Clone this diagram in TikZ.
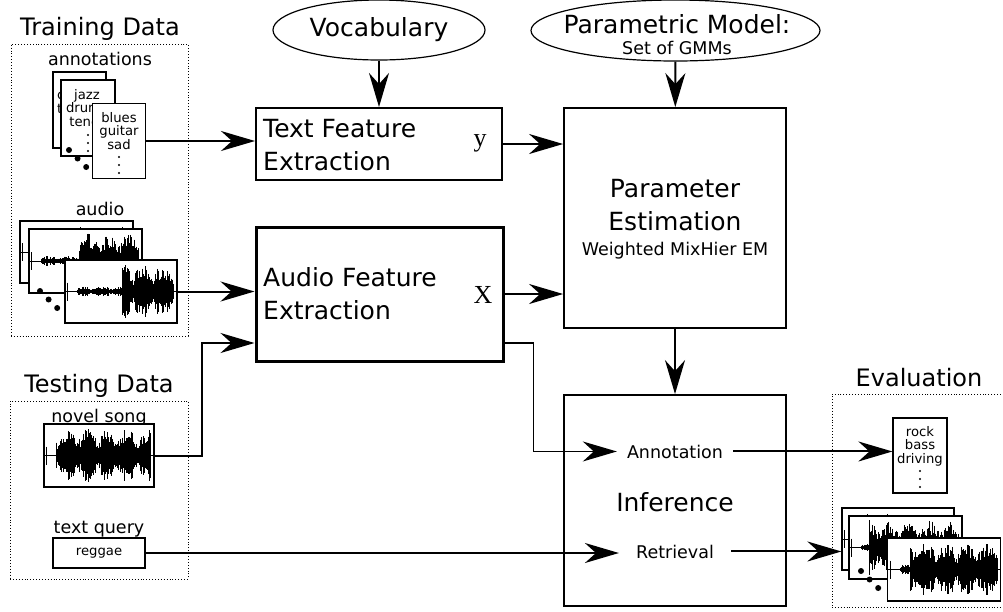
\documentclass[tikz,border=0pt]{standalone}
\usepackage{fontspec}
\setmainfont{DejaVu Sans}
\newfontfamily\varfont{Liberation Serif}
\usetikzlibrary{shapes.geometric, arrows.meta, positioning}
\tikzstyle{block}=[draw,rectangle,line width=2pt,inner sep=0]
\tikzstyle{model}=[draw,ellipse,line width=1.2pt,inner sep=0]
\tikzstyle{dataframe}=[draw,dotted,line width=0.9pt,inner sep=0]
\tikzstyle{card}=[draw,fill=white,line width=1.2pt,inner sep=0]
\tikzstyle{waveframe}=[draw,fill=white,line width=1.2pt,inner sep=0]
\tikzstyle{waveline}=[line width=0.7pt]
\tikzstyle{link}=[->,line width=2pt]
\tikzstyle{titletext}=[font=\fontsize{24}{28}\selectfont,inner sep=0]
\tikzstyle{bigtext}=[font=\fontsize{25}{33}\selectfont,inner sep=0]
\tikzstyle{midtext}=[font=\fontsize{17.5}{20}\selectfont,inner sep=0]
\tikzstyle{smalltext}=[font=\fontsize{13.2}{13.5}\selectfont,align=center,inner sep=0]
\tikzstyle{vartext}=[font=\fontsize{26}{28}\varfont,inner sep=0]
% framed waveform: [quiet samples] name, x, y, width, height, seed
\newcommand{\wavebox}[7][0]{%
  \node[waveframe,minimum width=#5pt,minimum height=#6pt] (#2) at (#3,#4) {};
  \draw[waveline] ([xshift=1pt]#2.west) -- ([xshift=-1pt]#2.east);
  \draw[waveline] ([xshift=3pt,yshift=9pt]#2.west) -- ([xshift=3pt,yshift=-9pt]#2.west);
  \pgfmathsetseed{#7}
  \pgfmathtruncatemacro{\wlast}{#5-16}
  \foreach \k in {0,...,\wlast} {
    \pgfmathsetmacro{\wamp}{(#6/2-4)*ifthenelse(\k<#1,0.18,1)*(0.45+0.55*rnd)*(0.5+0.5*abs(sin(\k*9+#7*17)))}
    \draw[waveline] ([xshift=13pt+\k pt,yshift=\wamp pt]#2.west) -- ([xshift=13pt+\k pt,yshift=-\wamp pt]#2.west);
  }
}
\newcommand{\stackdots}[2]{\foreach \d in {0,1,2} \fill (#1+\d*8.6,#2+\d*8.5) circle (3pt);}
\newcommand{\vdotsat}[2]{\foreach \d in {0,1,2} \fill (#1,#2+\d*8) circle (1.2pt);}

\begin{document}
\begin{tikzpicture}[x=1pt,y=-1pt,>={Stealth[length=34pt,width=20pt,inset=11pt]}]
    \useasboundingbox (0,0) rectangle (1003,611);
    \clip (0,0) rectangle (1003,611);
    % training data
    \node[dataframe,minimum width=177pt,minimum height=292pt] (train) at (99.5,190) {};
    \node[titletext,anchor=base] (traintitle) at (100,35) {Training Data};
    \node[midtext,anchor=base] (anntitle) at (100,65) {annotations};
    \node[card,minimum width=53pt,minimum height=76pt] (card1) at (79.5,110) {};
    \node[smalltext,anchor=base west,align=left] (card1txt) at (57,113) {c\\t};
    \node[card,minimum width=54pt,minimum height=76pt] (card2) at (88,118) {};
    \node[smalltext,anchor=base] (card2txt) at (87,126) {jazz\\drums\\tenor};
    \vdotsat{88}{135}
    \stackdots{69}{150}
    \node[card,minimum width=53pt,minimum height=75pt] (card3) at (119,141) {};
    \node[smalltext,anchor=base] (card3txt) at (119,149) {blues\\guitar\\sad};
    \vdotsat{119}{157}
    \node[midtext,anchor=base] (audiotitle) at (100,215) {audio};
    \wavebox[40]{wfa}{76.5}{252}{113}{62}{11}
    \wavebox[38]{wfb}{85.5}{261}{113}{64}{12}
    \stackdots{40}{291}
    \wavebox[45]{wfc}{121}{291.5}{112}{63}{13}
    % testing data
    \node[dataframe,minimum width=178pt,minimum height=178pt] (test) at (99,490) {};
    \node[titletext,anchor=base] (testtitle) at (99,392) {Testing Data};
    \node[midtext,anchor=base] (songtitle) at (99,422) {novel song};
    \wavebox{song}{99}{455.5}{110}{63}{31}
    \node[midtext,anchor=base] (querytitle) at (99,533) {text query};
    \node[card,minimum width=92pt,minimum height=30pt,smalltext] (query) at (99,553) {reggae};
    % feature extraction
    \node[model,minimum width=212pt,minimum height=60pt,bigtext] (vocab) at (379,30) {Vocabulary};
    \node[block,minimum width=246pt,minimum height=72pt] (tfe) at (379,144) {};
    \node[bigtext,anchor=base west,align=left] (tfetxt) at (263,170) {Text Feature\\Extraction};
    \node[vartext,anchor=base] (yvar) at (480,146) {y};
    \node[block,line width=3pt,minimum width=247pt,minimum height=134pt] (afe) at (379.5,294) {};
    \node[bigtext,anchor=base west,align=left] (afetxt) at (263,319) {Audio Feature\\Extraction};
    \node[vartext,anchor=base] (xvar) at (483,303) {X};
    % model
    \node[model,minimum width=289pt,minimum height=61pt] (pmodel) at (675.5,30.5) {};
    \node[bigtext,anchor=base] (pmtxt) at (677,33) {Parametric Model:};
    \node[midtext,anchor=base] (pmsub) at (677,54) {Set of GMMs};
    \node[block,line width=1.8pt,minimum width=222pt,minimum height=220pt] (pe) at (675,218) {};
    \node[bigtext,anchor=base,align=center] (petxt) at (675,230) {Parameter\\Estimation};
    \node[midtext,anchor=base] (pesub) at (675,255) {Weighted MixHier EM};
    \node[block,line width=1.8pt,minimum width=222pt,minimum height=211pt] (inf) at (675,500.5) {};
    \node[midtext,anchor=base,inner xsep=10pt] (ann) at (675,458) {Annotation};
    \node[bigtext,anchor=base] (infer) at (675,511) {Inference};
    \node[midtext,anchor=base,inner xsep=17pt] (ret) at (675,558) {Retrieval};
    % evaluation
    \node[dataframe,minimum width=178pt,minimum height=213pt] (evalbox) at (921,500.5) {};
    \node[titletext,anchor=base] (evaltitle) at (919,386) {Evaluation};
    \node[card,minimum width=54pt,minimum height=75pt] (rock) at (920,455.5) {};
    \node[smalltext,anchor=base] (rocktxt) at (920,463) {rock\\bass\\driving};
    \vdotsat{920}{471}
    \wavebox[5]{ewa}{898}{539}{112}{62}{21}
    \wavebox[8]{ewb}{905.5}{547.5}{113}{63}{22}
    \stackdots{861}{571}
    \wavebox[10]{ewc}{944}{569.5}{113}{63}{23}
    % connections
    \draw[link] (vocab) -- (tfe);
    \draw[link] (pmodel) -- (pe);
    \draw[link] (card3.east) -- (tfe.west |- card3.east);
    \draw[link] (wfc.east) -- (afe.west |- wfc.east);
    \draw[link] (tfe.east) -- (pe.west |- tfe.east);
    \draw[link] (afe.east) -- (pe.west |- afe.east);
    \draw[link] (pe) -- (inf);
    \draw[link] (song.east) -- ++(47,0) |- ([yshift=-49pt]afe.west);
    \draw[link,line width=1.5pt] ([yshift=-49pt]afe.east) -- ++(29,0) |- (ann.west);
    \draw[link] (query.east) -- (ret.west |- query.east);
    \draw[link] (ann.east) -- (rock.west |- ann.east);
    \draw[link] (ret.east) -- (ewa.west |- ret.east);
\end{tikzpicture}
\end{document}
